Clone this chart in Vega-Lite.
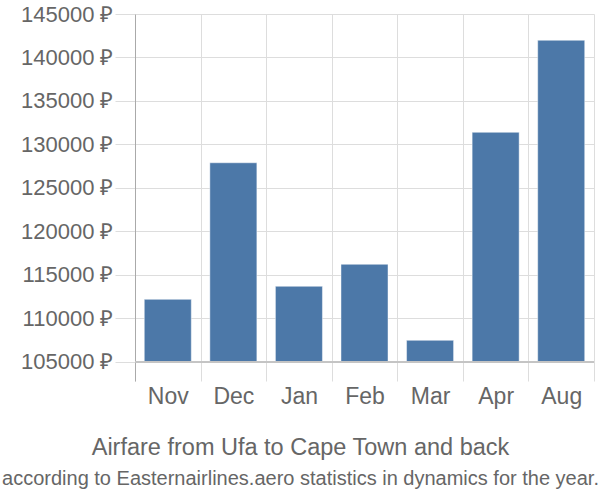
{
  "$schema": "https://vega.github.io/schema/vega-lite/v6.json",
  "width": 459,
  "height": 367,
  "autosize": "none",
  "padding": {"left": 135, "top": 14, "right": 6, "bottom": 119},
  "background": "white",
  "config": {
    "view": {"stroke": null},
    "font": "Liberation Sans"
  },
  "title": {
    "text": "Airfare from Ufa to Cape Town and back",
    "subtitle": "according to Easternairlines.aero statistics in dynamics for the year.",
    "orient": "bottom",
    "anchor": "middle",
    "frame": "group",
    "dx": -64,
    "offset": 28,
    "font": "Liberation Sans",
    "fontSize": 23.5,
    "fontWeight": "normal",
    "color": "#666666",
    "subtitleFont": "Liberation Sans",
    "subtitleFontSize": 20,
    "subtitleColor": "#666666",
    "subtitlePadding": 9
  },
  "data": {
    "values": [
      {"month": "Nov", "price": 112200},
      {"month": "Dec", "price": 127900},
      {"month": "Jan", "price": 113700},
      {"month": "Feb", "price": 116230},
      {"month": "Mar", "price": 107490},
      {"month": "Apr", "price": 131400},
      {"month": "Aug", "price": 141980}
    ]
  },
  "layer": [
    {
      "mark": {"type": "bar", "width": {"band": 0.717}, "color": "#4c78a8", "stroke": "#ffffff", "strokeOpacity": 0.45, "strokeWidth": 1},
      "encoding": {
        "x": {
          "field": "month",
          "type": "nominal",
          "sort": null,
          "scale": {"paddingInner": 0, "paddingOuter": 0},
          "axis": {
            "title": null,
            "domain": false,
            "ticks": false,
            "tickSize": 0,
            "labelPadding": 4,
            "labelAngle": 0,
            "labelFont": "Liberation Sans",
            "labelFontSize": 23,
            "labelColor": "#666666",
            "grid": true,
            "tickBand": "extent",
            "gridColor": "#dddddd",
            "gridWidth": 1
          }
        },
        "y": {
          "field": "price",
          "type": "quantitative",
          "scale": {"domain": [102816, 145000], "nice": false, "zero": false},
          "axis": {
            "title": null,
            "values": [105000, 110000, 115000, 120000, 125000, 130000, 135000, 140000, 145000],
            "labelExpr": "datum.value + ' ₽'",
            "labelFont": "Liberation Sans",
            "labelFontSize": 22,
            "labelColor": "#666666",
            "labelPadding": 2,
            "tickSize": 20,
            "tickColor": "#dddddd",
            "grid": true,
            "gridColor": "#dddddd",
            "domain": true,
            "domainColor": "#aaaaaa",
            "domainWidth": 1
          }
        },
        "y2": {"datum": 105000}
      }
    },
    {
      "mark": {"type": "rule", "color": "#c4c4c4", "strokeWidth": 1},
      "encoding": {
        "y": {"datum": 105000}
      }
    }
  ]
}
